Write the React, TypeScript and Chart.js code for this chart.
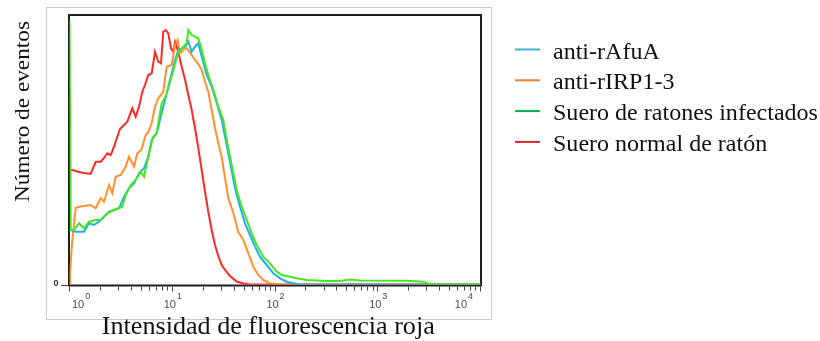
import React, { useEffect, useRef } from 'react';
import { Chart, registerables } from 'chart.js';

Chart.register(...registerables);

// ---- Data (fluorescence intensity, events) ----
const SERIES_NAMES = ['anti-rAfuA', 'anti-rIRP1-3', 'Suero de ratones infectados', 'Suero normal de ratón'];

const BLUE_X = [1, 1.027, 1.149, 1.384, 1.548, 1.731, 1.937, 2.167, 2.424, 2.711, 3.032, 3.392, 3.794, 4.244, 4.747, 5.31, 5.847, 6.31, 7.058, 7.598, 8.182, 9.152, 9.876, 10.64, 11.46, 12.36, 13.31, 14.33, 15.46, 16.65, 17.93, 19.35, 21.64, 24.21, 27.08, 30.29, 32.62, 36.48, 40.81, 45.64, 51.05, 57.12, 63.89, 71.45, 83.05, 96.27, 111.9, 130.0, 150.7, 175.2, 10000];
const BLUE_Y = [54.5, 54.5, 52.8, 52.8, 61.2, 59.5, 62.8, 67.8, 72.8, 74.5, 76.2, 87.8, 96.2, 101.2, 111.2, 116.2, 127.8, 144.5, 151.2, 164.5, 177.8, 197.8, 211.2, 224.5, 234.5, 236.2, 237.8, 242.8, 232.8, 237.8, 241.2, 227.8, 209.5, 197.8, 181.5, 164.5, 147.8, 122.5, 96.5, 77.8, 61.2, 49.5, 37.8, 27.8, 19.5, 11.2, 6.2, 2.8, 1.2, 0, 0];

const ORANGE_X = [1, 1.011, 1.065, 1.149, 1.237, 1.384, 1.608, 1.799, 2.012, 2.167, 2.424, 2.61, 2.817, 3.15, 3.524, 3.794, 4.244, 4.57, 4.998, 5.516, 5.847, 6.31, 6.794, 7.314, 8.182, 8.831, 9.876, 10.64, 11.25, 11.9, 12.81, 13.82, 15.46, 16.65, 17.93, 19.35, 20.84, 22.44, 24.21, 26.07, 28.07, 30.29, 32.62, 35.12, 39.28, 43.94, 49.15, 54.98, 61.5, 68.79, 76.93, 89.41, 103.9, 10000];
const ORANGE_Y = [0, 11.5, 44.5, 76.5, 77.8, 78.5, 79.5, 76.2, 86.2, 82.8, 99.5, 91.2, 107.8, 109.5, 117.8, 127.8, 117.8, 131.2, 134.5, 149.5, 152.5, 161.5, 177.8, 186.2, 192.8, 217.8, 219.5, 239.5, 244.5, 231.2, 234.5, 236.5, 229.5, 224.5, 220.5, 214.5, 202.8, 192.8, 174.5, 156.5, 141.5, 127.5, 106.5, 86.5, 71.5, 52.5, 44.5, 31.2, 17.8, 9.5, 4.5, 1.2, 0, 0];

const GREEN_X = [1, 1.027, 1.106, 1.237, 1.384, 1.548, 1.799, 2.012, 2.333, 2.711, 3.265, 3.524, 3.941, 4.409, 4.931, 5.31, 5.939, 6.54, 7.058, 7.893, 8.5, 9.152, 10.24, 11.46, 12.81, 13.82, 14.33, 15.46, 16.65, 17.93, 19.35, 20.84, 22.44, 25.09, 28.07, 31.4, 33.88, 37.9, 42.39, 47.42, 53.04, 59.33, 66.36, 76.93, 89.41, 103.9, 116.2, 140.0, 162.7, 203.5, 318.6, 429, 537, 672, 1913, 2775, 2995, 3607, 10000];
const GREEN_Y = [264.5, 54.5, 54.5, 61.2, 56.2, 62.8, 64.5, 64.5, 71.2, 74.5, 77.8, 89.5, 99.5, 104.5, 112.8, 107.8, 131.2, 147.8, 151.5, 181.5, 186.5, 196.5, 214.5, 232.8, 237.8, 241.2, 254.5, 249.5, 247.8, 246.2, 234.5, 221.2, 209.5, 194.5, 177.8, 164.5, 144.5, 119.5, 94.5, 77.8, 64.5, 51.2, 39.5, 27.8, 21.2, 12.8, 9.5, 7.8, 6.2, 4.5, 3.5, 3.5, 5, 4, 3.8, 2.8, 1.2, 0, 0];

const RED_X = [1, 1.065, 1.237, 1.384, 1.608, 1.799, 2.012, 2.167, 2.333, 2.518, 2.711, 2.92, 3.1, 3.265, 3.652, 4.085, 4.409, 4.747, 5.111, 5.43, 5.847, 6.31, 6.794, 7.314, 7.77, 8.182, 8.636, 9.152, 9.723, 10.24, 10.64, 11.46, 12.36, 13.31, 14.33, 15.46, 16.65, 17.93, 19.35, 20.84, 22.44, 24.21, 26.07, 28.07, 30.29, 32.62, 36.48, 42.39, 49.15, 57.12, 10000];
const RED_Y = [114.5, 114.5, 112.5, 111.5, 110.5, 122.8, 122.8, 126.5, 131.2, 129.5, 137.8, 147.8, 155.5, 157.8, 162.8, 176.2, 167.8, 177.8, 192.8, 199.5, 209.5, 211.2, 232.8, 222.8, 221.2, 252.8, 254.5, 251.2, 236.2, 232.8, 242.5, 232.5, 217.8, 205, 189.5, 174.5, 156.5, 136.5, 114.5, 92.5, 72.5, 54.5, 39.5, 28.5, 19.5, 14.5, 8.5, 3, 1, 0, 0];

// axis
const X_DECADES = [1, 10, 100, 1000, 10000];
const X_EXPONENTS = ['0', '1', '2', '3', '4'];
const Y_TICK_LABELS = ['0'];
const X_TITLE = 'Intensidad de fluorescencia roja';
const Y_TITLE = 'Número de eventos';

// styles
const LINE_COLORS = ['#1EAEEE', '#FF9030', '#46E61E', '#FF2828'];
const LEGEND_COLORS = ['#4BACC6', '#F0802A', '#00B050', '#D42A2A'];

const toPoints = (xs: number[], ys: number[]) => xs.map((x, i) => ({ x, y: ys[i] }));

const drawStretched = (ctx: CanvasRenderingContext2D, text: string, x: number, y: number, sx: number, align: CanvasTextAlign) => {
  ctx.save();
  ctx.translate(x, y);
  ctx.scale(sx, 1);
  ctx.textAlign = align;
  ctx.fillText(text, 0, 0);
  ctx.restore();
};

const facsPlugin = {
  id: 'facsDecor',
  beforeDraw(chart: any) {
    const ctx = chart.ctx as CanvasRenderingContext2D;
    ctx.save();
    ctx.fillStyle = '#ffffff';
    ctx.fillRect(0, 0, chart.width, chart.height);
    ctx.strokeStyle = '#c8c8c8';
    ctx.lineWidth = 1;
    ctx.strokeRect(46.5, 7.5, 445, 312);
    ctx.restore();
  },
  beforeDatasetsDraw(chart: any) {
    const ctx = chart.ctx as CanvasRenderingContext2D;
    const ca = chart.chartArea;
    ctx.save();
    ctx.strokeStyle = '#1e1e1e';
    ctx.lineWidth = 2;
    ctx.strokeRect(ca.left - 0.5, ca.top, ca.right - ca.left + 1, ca.bottom + 1 - ca.top);
    ctx.restore();
  },
  afterDatasetsDraw(chart: any) {
    const ctx = chart.ctx as CanvasRenderingContext2D;
    const ca = chart.chartArea;
    const xs = chart.scales.x;
    const ys = chart.scales.y;
    ctx.save();
    // x tick marks
    ctx.strokeStyle = '#444';
    ctx.lineWidth = 1;
    const y0 = ca.bottom + 2;
    X_DECADES.forEach((d, i) => {
      const px = Math.floor(xs.getPixelForValue(d)) + 0.5;
      ctx.beginPath();
      ctx.moveTo(px, y0);
      ctx.lineTo(px, y0 + 5);
      ctx.stroke();
      if (i < X_DECADES.length - 1) {
        for (let m = 2; m <= 9; m++) {
          const mx = Math.floor(xs.getPixelForValue(d * m)) + 0.5;
          ctx.beginPath();
          ctx.moveTo(mx, y0);
          ctx.lineTo(mx, y0 + 4);
          ctx.stroke();
        }
      }
    });
    // x tick labels (10^n)
    ctx.fillStyle = '#4a4a4a';
    ctx.textBaseline = 'alphabetic';
    ctx.textAlign = 'left';
    X_DECADES.forEach((d, i) => {
      const px = xs.getPixelForValue(d);
      ctx.font = '11px "Liberation Sans", Arial, sans-serif';
      const w1 = ctx.measureText('10').width;
      ctx.font = '9px "Liberation Sans", Arial, sans-serif';
      const w2 = ctx.measureText(X_EXPONENTS[i]).width;
      const w = w1 + 1 + w2;
      let left;
      if (i === 0) left = px + 2.5;
      else if (i === X_DECADES.length - 1) left = px - 7.5 - w;
      else left = px - w / 2 + 0.5;
      ctx.font = '11px "Liberation Sans", Arial, sans-serif';
      ctx.fillText('10', left, 308);
      ctx.font = '9px "Liberation Sans", Arial, sans-serif';
      ctx.fillText(X_EXPONENTS[i], left + w1 + 1, 299);
    });
    // y zero tick + label
    const yz = Math.round(ys.getPixelForValue(0)) + 0.5;
    ctx.beginPath();
    ctx.moveTo(61, yz);
    ctx.lineTo(68, yz);
    ctx.stroke();
    ctx.font = 'bold 9px "Liberation Sans", Arial, sans-serif';
    ctx.fillStyle = '#333';
    ctx.textAlign = 'right';
    ctx.fillText(Y_TICK_LABELS[0], 58.5, yz + 0.5);

    // titles
    ctx.fillStyle = '#111';
    ctx.textBaseline = 'alphabetic';
    ctx.font = '25px "Liberation Serif", "Times New Roman", serif';
    drawStretched(ctx, X_TITLE, 268.3, 334, 1.045, 'center');
    ctx.save();
    ctx.translate(28.5, 111.5);
    ctx.rotate(-Math.PI / 2);
    ctx.font = '22px "Liberation Serif", "Times New Roman", serif';
    drawStretched(ctx, Y_TITLE, 0, 0, 1.058, 'center');
    ctx.restore();

    // legend
    ctx.font = '23px "Liberation Serif", "Times New Roman", serif';
    SERIES_NAMES.forEach((name, i) => {
      const ly = 49.5 + i * 30.8;
      ctx.strokeStyle = LEGEND_COLORS[i];
      ctx.lineWidth = 2;
      ctx.beginPath();
      ctx.moveTo(515, ly);
      ctx.lineTo(540, ly);
      ctx.stroke();
      ctx.fillStyle = '#111';
      drawStretched(ctx, name, 553, ly + 9, 1.045, 'left');
    });
    ctx.restore();
  },
};

export default function App() {
  const ref = useRef<HTMLCanvasElement | null>(null);
  useEffect(() => {
    if (!ref.current) return;
    const seriesX = [BLUE_X, ORANGE_X, GREEN_X, RED_X];
    const seriesY = [BLUE_Y, ORANGE_Y, GREEN_Y, RED_Y];
    const drawOrder = [2, 3, 1, 4];
    const chart = new Chart(ref.current, {
      type: 'line',
      data: {
        datasets: SERIES_NAMES.map((name, i) => ({
          label: name,
          data: toPoints(seriesX[i], seriesY[i]),
          borderColor: LINE_COLORS[i],
          backgroundColor: LINE_COLORS[i],
          borderWidth: 2,
          pointRadius: 0,
          tension: 0,
          fill: false,
          order: drawOrder[i],
        })),
      },
      options: {
        animation: false,
        responsive: false,
        devicePixelRatio: 1,
        parsing: true,
        layout: { padding: { left: 69.5, top: 15, right: 339.5, bottom: 56.5 } },
        plugins: { legend: { display: false }, tooltip: { enabled: false } },
        scales: {
          x: { type: 'logarithmic', min: 1, max: 10000, display: false },
          y: { type: 'linear', min: 0, max: 269.5, display: false },
        },
      },
      plugins: [facsPlugin],
    });
    return () => chart.destroy();
  }, []);
  return (
    <div style={{ position: 'fixed', left: 0, top: 0, width: 820, height: 341, background: '#fff' }}>
      <canvas ref={ref} width={820} height={341} style={{ display: 'block', width: 820, height: 341 }} />
    </div>
  );
}
